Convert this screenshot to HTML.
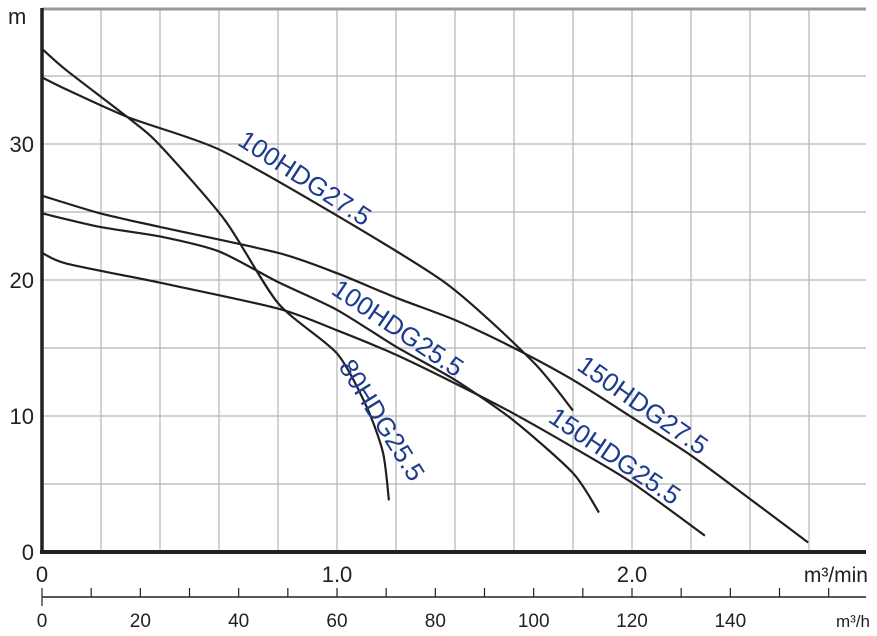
<!DOCTYPE html>
<html><head><meta charset="utf-8"><style>
body{margin:0;background:#fff}
svg text{font-family:"Liberation Sans",sans-serif}
</style></head><body>
<svg id="chart" width="877" height="631" viewBox="0 0 877 631" xmlns="http://www.w3.org/2000/svg">
<g id="grid"></g>
<g id="curves"></g>
<g id="labels"></g>
<g id="axes"></g>
</svg>
<script>
const seriesNames = ["80HDG25.5","100HDG27.5","100HDG25.5","150HDG27.5","150HDG25.5"];
const s80x = [0,0.084,0.3,0.4,0.62,0.8,1.0,1.10,1.156,1.176];
const s80y = [37,35.4,31.8,29.9,24.4,18.3,14.6,10.7,7.3,3.8];
const s100ax = [0,0.084,0.3,0.6,0.987,1.373,1.664,1.8];
const s100ay = [34.9,34.0,31.9,29.6,24.9,19.7,14.0,10.4];
const s100bx = [0,0.197,0.4,0.6,0.8,1.0,1.2,1.4,1.597,1.8,1.888];
const s100by = [24.9,23.9,23.2,22.1,19.85,17.8,15.1,12.65,9.7,5.8,2.9];
const s150ax = [0,0.197,0.4,0.8,1.0,1.2,1.4,1.6,1.8,2.0,2.2,2.4,2.597];
const s150ay = [26.2,24.9,23.9,22.0,20.5,18.7,17.06,15.0,12.65,9.9,7.1,3.9,0.7];
const s150bx = [0,0.084,0.4,0.8,1.0,1.2,1.4,1.597,1.8,2.0,2.247];
const s150by = [22.0,21.2,19.8,17.9,16.3,14.5,12.4,10.2,7.7,5.1,1.2];
const yTicks = [0,10,20,30];
const xTicks = ["0","1.0","2.0"];
const xTickVals = [0,1,2];
const hTicks = [0,20,40,60,80,100,120,140];

const X0=42, X1=866, Y0=552, YT=9;
const sx = v => X0 + v*295;
const sy = v => Y0 - v*13.6;
const sh = v => X0 + v*295/60;
const NS="http://www.w3.org/2000/svg";
function mk(tag, parent, attrs){const e=document.createElementNS(NS,tag);for(const k in attrs)e.setAttribute(k,attrs[k]);parent.appendChild(e);return e;}
const grid=document.getElementById('grid'), curves=document.getElementById('curves'), labels=document.getElementById('labels'), axes=document.getElementById('axes');

for(let v=0.2; sx(v)<X1-2; v+=0.2){
  const l=mk('line',grid,{x1:sx(v),x2:sx(v),y1:YT,y2:Y0,stroke:'#b4b4b4','stroke-width':1.2});
  
  
}
for(let v=5; sy(v)>YT+2; v+=5){
  const l=mk('line',grid,{x1:X0,x2:X1,y1:sy(v),y2:sy(v),stroke:'#b4b4b4','stroke-width':1.2});
  
  
}
const tb=mk('line',grid,{x1:X0,x2:X1,y1:YT,y2:YT,stroke:'#999','stroke-width':3});



function pathFrom(xs,ys){
  const p=xs.map((x,i)=>[sx(x),sy(ys[i])]);
  let d=`M${p[0][0]},${p[0][1]}`;
  const k=8;
  for(let i=0;i<p.length-1;i++){
    const a=p[i-1]||p[i], b=p[i], c=p[i+1], e=p[i+2]||c;
    const c1=[b[0]+(c[0]-a[0])/k,b[1]+(c[1]-a[1])/k], c2=[c[0]-(e[0]-b[0])/k,c[1]-(e[1]-b[1])/k];
    d+=` C${c1[0]},${c1[1]} ${c2[0]},${c2[1]} ${c[0]},${c[1]}`;
  }
  return d;
}
const allX=[s80x,s100ax,s100bx,s150ax,s150bx], allY=[s80y,s100ay,s100by,s150ay,s150by];
allX.forEach((xs,i)=>{
  const p=mk('path',curves,{d:pathFrom(xs,allY[i]),fill:'none',stroke:'#231f20','stroke-width':2.2});
  
  
});

const lab=[["100HDG27.5",305,178,33],["100HDG25.5",398,328,34],["80HDG25.5",382,420,58],["150HDG27.5",643,405,35],["150HDG25.5",615,456,34]];
lab.forEach(l=>{
  const t=mk('text',labels,{x:l[1],y:l[2],'text-anchor':'middle','dominant-baseline':'central','font-size':26,fill:'#1d3b8f',transform:`rotate(${l[3]} ${l[1]} ${l[2]})`});
  t.textContent=l[0];
  
  
});

const ya=mk('line',axes,{x1:X0,x2:X0,y1:YT-1,y2:Y0+2,stroke:'#231f20','stroke-width':3.5});


const xa=mk('line',axes,{x1:X0-2,x2:X1,y1:Y0,y2:Y0,stroke:'#231f20','stroke-width':4});


yTicks.forEach(v=>{
  const t=mk('text',axes,{x:34,y:sy(v)+8,'text-anchor':'end','font-size':22,fill:'#231f20'});
  t.textContent=v;
  
  
});
const mu=mk('text',axes,{x:8,y:24,'font-size':22,fill:'#231f20'});mu.textContent='m';


xTickVals.forEach((v,i)=>{
  const t=mk('text',axes,{x:sx(v),y:582,'text-anchor':'middle','font-size':22,fill:'#231f20'});
  t.textContent=xTicks[i];
  
  
});
const um=mk('text',axes,{x:868,y:582,'text-anchor':'end','font-size':21,fill:'#231f20'});um.textContent='m³/min';


const ha=mk('line',axes,{x1:X0,x2:X1,y1:597,y2:597,stroke:'#231f20','stroke-width':1.5});


for(let v=0; sh(v)<X1; v+=10){
  const t=mk('line',axes,{x1:sh(v),x2:sh(v),y1:588,y2:597,stroke:'#231f20','stroke-width':1.2});
  
  
}
const lt=mk('line',axes,{x1:X0,x2:X0,y1:597,y2:606,stroke:'#231f20','stroke-width':1.2});


hTicks.forEach(v=>{
  const t=mk('text',axes,{x:sh(v),y:627,'text-anchor':'middle','font-size':19,fill:'#231f20'});
  t.textContent=v;
  
  
});
const uh=mk('text',axes,{x:870,y:627,'text-anchor':'end','font-size':17,fill:'#231f20'});uh.textContent='m³/h';


</script>
</body></html>
